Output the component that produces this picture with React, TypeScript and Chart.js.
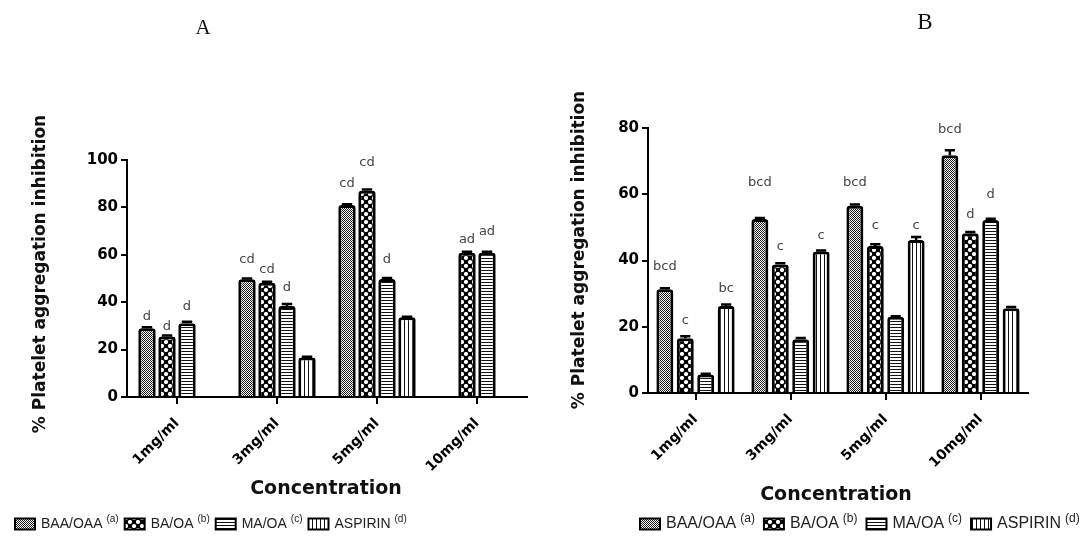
import React, { useEffect, useRef } from 'react';
import { Chart, registerables } from 'chart.js';
Chart.register(...registerables);

// ---------- data ----------
const categories = ['1mg/ml', '3mg/ml', '5mg/ml', '10mg/ml'];
const seriesNames = ['BAA/OAA', 'BA/OA', 'MA/OA', 'ASPIRIN'];
const seriesTags = ['(a)', '(b)', '(c)', '(d)'];

// Panel A values
const aBAA = [29, 49.7, 81, null];
const aBA = [25.5, 48.2, 87, 60.9];
const aMA = [31.1, 38.4, 49.8, 60.9];
const aASP = [null, 16.7, 33.6, null];
const aErrBAA = [0.4, 0.3, 0.3, null];
const aErrBA = [0.4, 0.4, 0.6, 0.4];
const aErrMA = [0.6, 0.8, 0.4, 0.4];
const aErrASP = [null, 0.3, 0.3, null];
const aLblBAA = ['d', 'cd', 'cd', ''];
const aLblBA = ['d', 'cd', 'cd', 'ad'];
const aLblMA = ['d', 'd', 'd', 'ad'];
const aLblASP = ['', '', '', ''];
const aLyBAA = [33.9, 57.8, 90, null];
const aLyBA = [29.5, 53.6, 98.7, 66.2];
const aLyMA = [38, 46, 57.8, 69.6];
const aLyASP = [null, null, null, null];

// Panel B values
const bBAA = [31.3, 52.5, 56.5, 71.8];
const bBA = [16.5, 38.8, 44.4, 48.2];
const bMA = [5.6, 16.2, 23, 52.2];
const bASP = [26.3, 42.7, 46.2, 25.6];
const bErrBAA = [0.3, 0.3, 0.4, 1.5];
const bErrBA = [0.6, 0.4, 0.5, 0.4];
const bErrMA = [0.2, 0.4, 0.2, 0.4];
const bErrASP = [0.4, 0.3, 0.9, 0.4];
const bLblBAA = ['bcd', 'bcd', 'bcd', 'bcd'];
const bLblBA = ['c', 'c', 'c', 'd'];
const bLblMA = ['', '', '', 'd'];
const bLblASP = ['bc', 'c', 'c', ''];
const bLyBAA = [38.1, 63.5, 63.5, 79.4];
const bLyBA = [21.8, 44.2, 50.4, 54];
const bLyMA = [null, null, null, 60];
const bLyASP = [31.6, 47.4, 50.4, null];

const yTicksA = { max: 100, step: 20 };
const yTicksB = { max: 80, step: 20 };

const yTitle = '% Platelet aggregation inhibition';
const xTitle = 'Concentration';

// ---------- styles ----------
const AXIS_FONT = '"DejaVu Sans", "Liberation Sans", sans-serif';
const LEGEND_FONT = '"Liberation Sans", Arial, sans-serif';

function makePattern(kind: string): CanvasPattern | string {
  const c = document.createElement('canvas');
  let ctx: CanvasRenderingContext2D;
  if (kind === 'fine') {
    c.width = 2; c.height = 2;
    ctx = c.getContext('2d')!;
    ctx.fillStyle = '#fff'; ctx.fillRect(0, 0, 2, 2);
    ctx.fillStyle = '#1a1a1a'; ctx.fillRect(0, 0, 1, 1); ctx.fillRect(1, 1, 1, 1);
  } else if (kind === 'checker') {
    c.width = 8; c.height = 8;
    ctx = c.getContext('2d')!;
    ctx.fillStyle = '#000'; ctx.fillRect(0, 0, 8, 8);
    ctx.fillStyle = '#fff';
    ctx.beginPath(); ctx.arc(2, 2, 2.1, 0, Math.PI * 2); ctx.fill();
    ctx.beginPath(); ctx.arc(6, 6, 2.1, 0, Math.PI * 2); ctx.fill();
  } else if (kind === 'hlines') {
    c.width = 3; c.height = 3;
    ctx = c.getContext('2d')!;
    ctx.fillStyle = '#fff'; ctx.fillRect(0, 0, 3, 3);
    ctx.fillStyle = '#111'; ctx.fillRect(0, 0, 3, 1);
  } else {
    c.width = 4; c.height = 4;
    ctx = c.getContext('2d')!;
    ctx.fillStyle = '#fff'; ctx.fillRect(0, 0, 4, 4);
    ctx.fillStyle = '#111'; ctx.fillRect(0, 0, 1, 4);
  }
  return ctx.createPattern(c, 'repeat') || '#888';
}

type Panel = {
  title: string;
  titlePos: [number, number];
  titleSize: number;
  values: (number | null)[][];
  errors: (number | null)[][];
  labels: string[][];
  labelY: (number | null)[][];
  yMax: number;
  yStep: number;
  yAxisWidth: number;
  xAxisHeight: number;
  padTop: number;
  padRight: number;
  catPct: number;
  barPct: number;
  yTitlePos: [number, number];
  xTitlePos: [number, number];
  legendX: number;
  legendY: number;
  legendFont: number;
  legendGap: number;
};

const panelA: Panel = {
  title: 'A', titlePos: [203, 28], titleSize: 21,
  values: [aBAA, aBA, aMA, aASP],
  errors: [aErrBAA, aErrBA, aErrMA, aErrASP],
  labels: [aLblBAA, aLblBA, aLblMA, aLblASP],
  labelY: [aLyBAA, aLyBA, aLyMA, aLyASP],
  yMax: yTicksA.max, yStep: yTicksA.step,
  yAxisWidth: 127, xAxisHeight: 145, padTop: 160, padRight: 17,
  catPct: 0.8, barPct: 0.87,
  yTitlePos: [41, 274], xTitlePos: [326, 489],
  legendX: 15, legendY: 524, legendFont: 14, legendGap: 6,
};

const panelB: Panel = {
  title: 'B', titlePos: [381, 23], titleSize: 23,
  values: [bBAA, bBA, bMA, bASP],
  errors: [bErrBAA, bErrBA, bErrMA, bErrASP],
  labels: [bLblBAA, bLblBA, bLblMA, bLblASP],
  labelY: [bLyBAA, bLyBA, bLyMA, bLyASP],
  yMax: yTicksB.max, yStep: yTicksB.step,
  yAxisWidth: 104, xAxisHeight: 149, padTop: 128, padRight: 60,
  catPct: 0.86, barPct: 0.83,
  yTitlePos: [36, 250], xTitlePos: [292, 495],
  legendX: 96, legendY: 524, legendFont: 16, legendGap: 9,
};

function buildChart(canvas: HTMLCanvasElement, p: Panel): Chart {
  const patterns = [makePattern('fine'), makePattern('checker'), makePattern('hlines'), makePattern('vlines')];

  const overlay = {
    id: 'overlay',
    afterDatasetsDraw(chart: any) {
      const ctx: CanvasRenderingContext2D = chart.ctx;
      const ys = chart.scales.y;
      ctx.save();
      // error bars
      p.errors.forEach((errs, di) => {
        const meta = chart.getDatasetMeta(di);
        meta.data.forEach((el: any, i: number) => {
          const v = p.values[di][i];
          const e = errs[i];
          if (v == null || e == null) return;
          const y0 = ys.getPixelForValue(v);
          const y1 = ys.getPixelForValue(v + e);
          const w = el.width * 0.6;
          ctx.strokeStyle = '#000';
          ctx.lineWidth = 2.5;
          ctx.beginPath();
          ctx.moveTo(el.x, y0); ctx.lineTo(el.x, y1);
          ctx.moveTo(el.x - w / 2, y1); ctx.lineTo(el.x + w / 2, y1);
          ctx.stroke();
        });
      });
      // significance letters
      ctx.font = `13px ${AXIS_FONT}`;
      ctx.fillStyle = '#444';
      ctx.textAlign = 'center';
      ctx.textBaseline = 'middle';
      p.labels.forEach((lbls, di) => {
        const meta = chart.getDatasetMeta(di);
        lbls.forEach((t, i) => {
          const ly = p.labelY[di][i];
          if (!t || ly == null) return;
          const el: any = meta.data[i];
          ctx.fillText(t, el.x, ys.getPixelForValue(ly));
        });
      });
      ctx.restore();
    },
    afterDraw(chart: any) {
      const ctx: CanvasRenderingContext2D = chart.ctx;
      ctx.save();
      // panel title
      ctx.fillStyle = '#111';
      ctx.font = `${p.titleSize}px "Liberation Serif", "Times New Roman", serif`;
      ctx.textAlign = 'center';
      ctx.textBaseline = 'middle';
      ctx.fillText(p.title, p.titlePos[0], p.titlePos[1]);
      // y title
      ctx.save();
      ctx.translate(p.yTitlePos[0], p.yTitlePos[1]);
      ctx.rotate(-Math.PI / 2);
      ctx.font = `bold 17px ${AXIS_FONT}`;
      ctx.fillStyle = '#111';
      ctx.fillText(yTitle, 0, 0);
      ctx.restore();
      // x title
      ctx.font = `bold 19px ${AXIS_FONT}`;
      ctx.fillStyle = '#111';
      ctx.fillText(xTitle, p.xTitlePos[0], p.xTitlePos[1]);
      // legend
      let x = p.legendX;
      const cy = p.legendY;
      ctx.textAlign = 'left';
      for (let i = 0; i < seriesNames.length; i++) {
        const sw = 20, sh = 11;
        ctx.fillStyle = patterns[i] as any;
        ctx.fillRect(x, cy - sh / 2, sw, sh);
        ctx.strokeStyle = '#000';
        ctx.lineWidth = 2;
        ctx.strokeRect(x, cy - sh / 2, sw, sh);
        x += sw + 6;
        ctx.font = `${p.legendFont}px ${LEGEND_FONT}`;
        ctx.fillStyle = '#222';
        ctx.fillText(seriesNames[i], x, cy);
        x += ctx.measureText(seriesNames[i]).width + 4;
        ctx.font = `${p.legendFont - 4}px ${LEGEND_FONT}`;
        ctx.fillText(seriesTags[i], x, cy - 5);
        x += ctx.measureText(seriesTags[i]).width + p.legendGap;
      }
      ctx.restore();
    },
  };

  return new Chart(canvas, {
    type: 'bar',
    data: {
      labels: categories,
      datasets: seriesNames.map((name, i) => ({
        label: name,
        data: p.values[i],
        backgroundColor: patterns[i] as any,
        borderColor: '#000',
        borderWidth: 3,
        borderRadius: { topLeft: 3, topRight: 3, bottomLeft: 0, bottomRight: 0 },
        borderSkipped: 'start',
        categoryPercentage: p.catPct,
        barPercentage: p.barPct,
      })),
    },
    options: {
      animation: false,
      responsive: true,
      maintainAspectRatio: false,
      layout: { padding: { top: p.padTop, right: p.padRight, left: 0, bottom: 0 } },
      plugins: { legend: { display: false }, tooltip: { enabled: false }, title: { display: false } },
      scales: {
        x: {
          offset: true,
          afterFit: (s: any) => { s.height = p.xAxisHeight; },
          grid: { display: true, drawOnChartArea: false, drawTicks: true, tickLength: 7, offset: false, color: '#000', lineWidth: 2 },
          border: { display: true, color: '#000', width: 2 },
          ticks: { minRotation: 45, maxRotation: 45, color: '#000', padding: 11, font: { family: AXIS_FONT, size: 14, weight: 'bold' } },
        },
        y: {
          min: 0, max: p.yMax,
          afterFit: (s: any) => { s.width = p.yAxisWidth; },
          grid: { display: true, drawOnChartArea: false, drawTicks: true, tickLength: 6, color: '#000', lineWidth: 2 },
          border: { display: true, color: '#000', width: 2 },
          ticks: { stepSize: p.yStep, color: '#000', padding: 3, font: { family: AXIS_FONT, size: 15, weight: 'bold' } },
        },
      },
    } as any,
    plugins: [overlay],
  });
}

function PanelChart({ panel, left }: { panel: Panel; left: number }) {
  const ref = useRef<HTMLCanvasElement>(null);
  useEffect(() => {
    if (!ref.current) return;
    const ch = buildChart(ref.current, panel);
    return () => ch.destroy();
  }, [panel]);
  return (
    <div style={{ position: 'absolute', left, top: 0, width: 544, height: 542 }}>
      <canvas ref={ref} />
    </div>
  );
}

export default function App() {
  return (
    <div style={{ position: 'fixed', left: 0, top: 0, width: 1088, height: 542, background: '#fff', overflow: 'hidden' }}>
      <PanelChart panel={panelA} left={0} />
      <PanelChart panel={panelB} left={544} />
    </div>
  );
}
